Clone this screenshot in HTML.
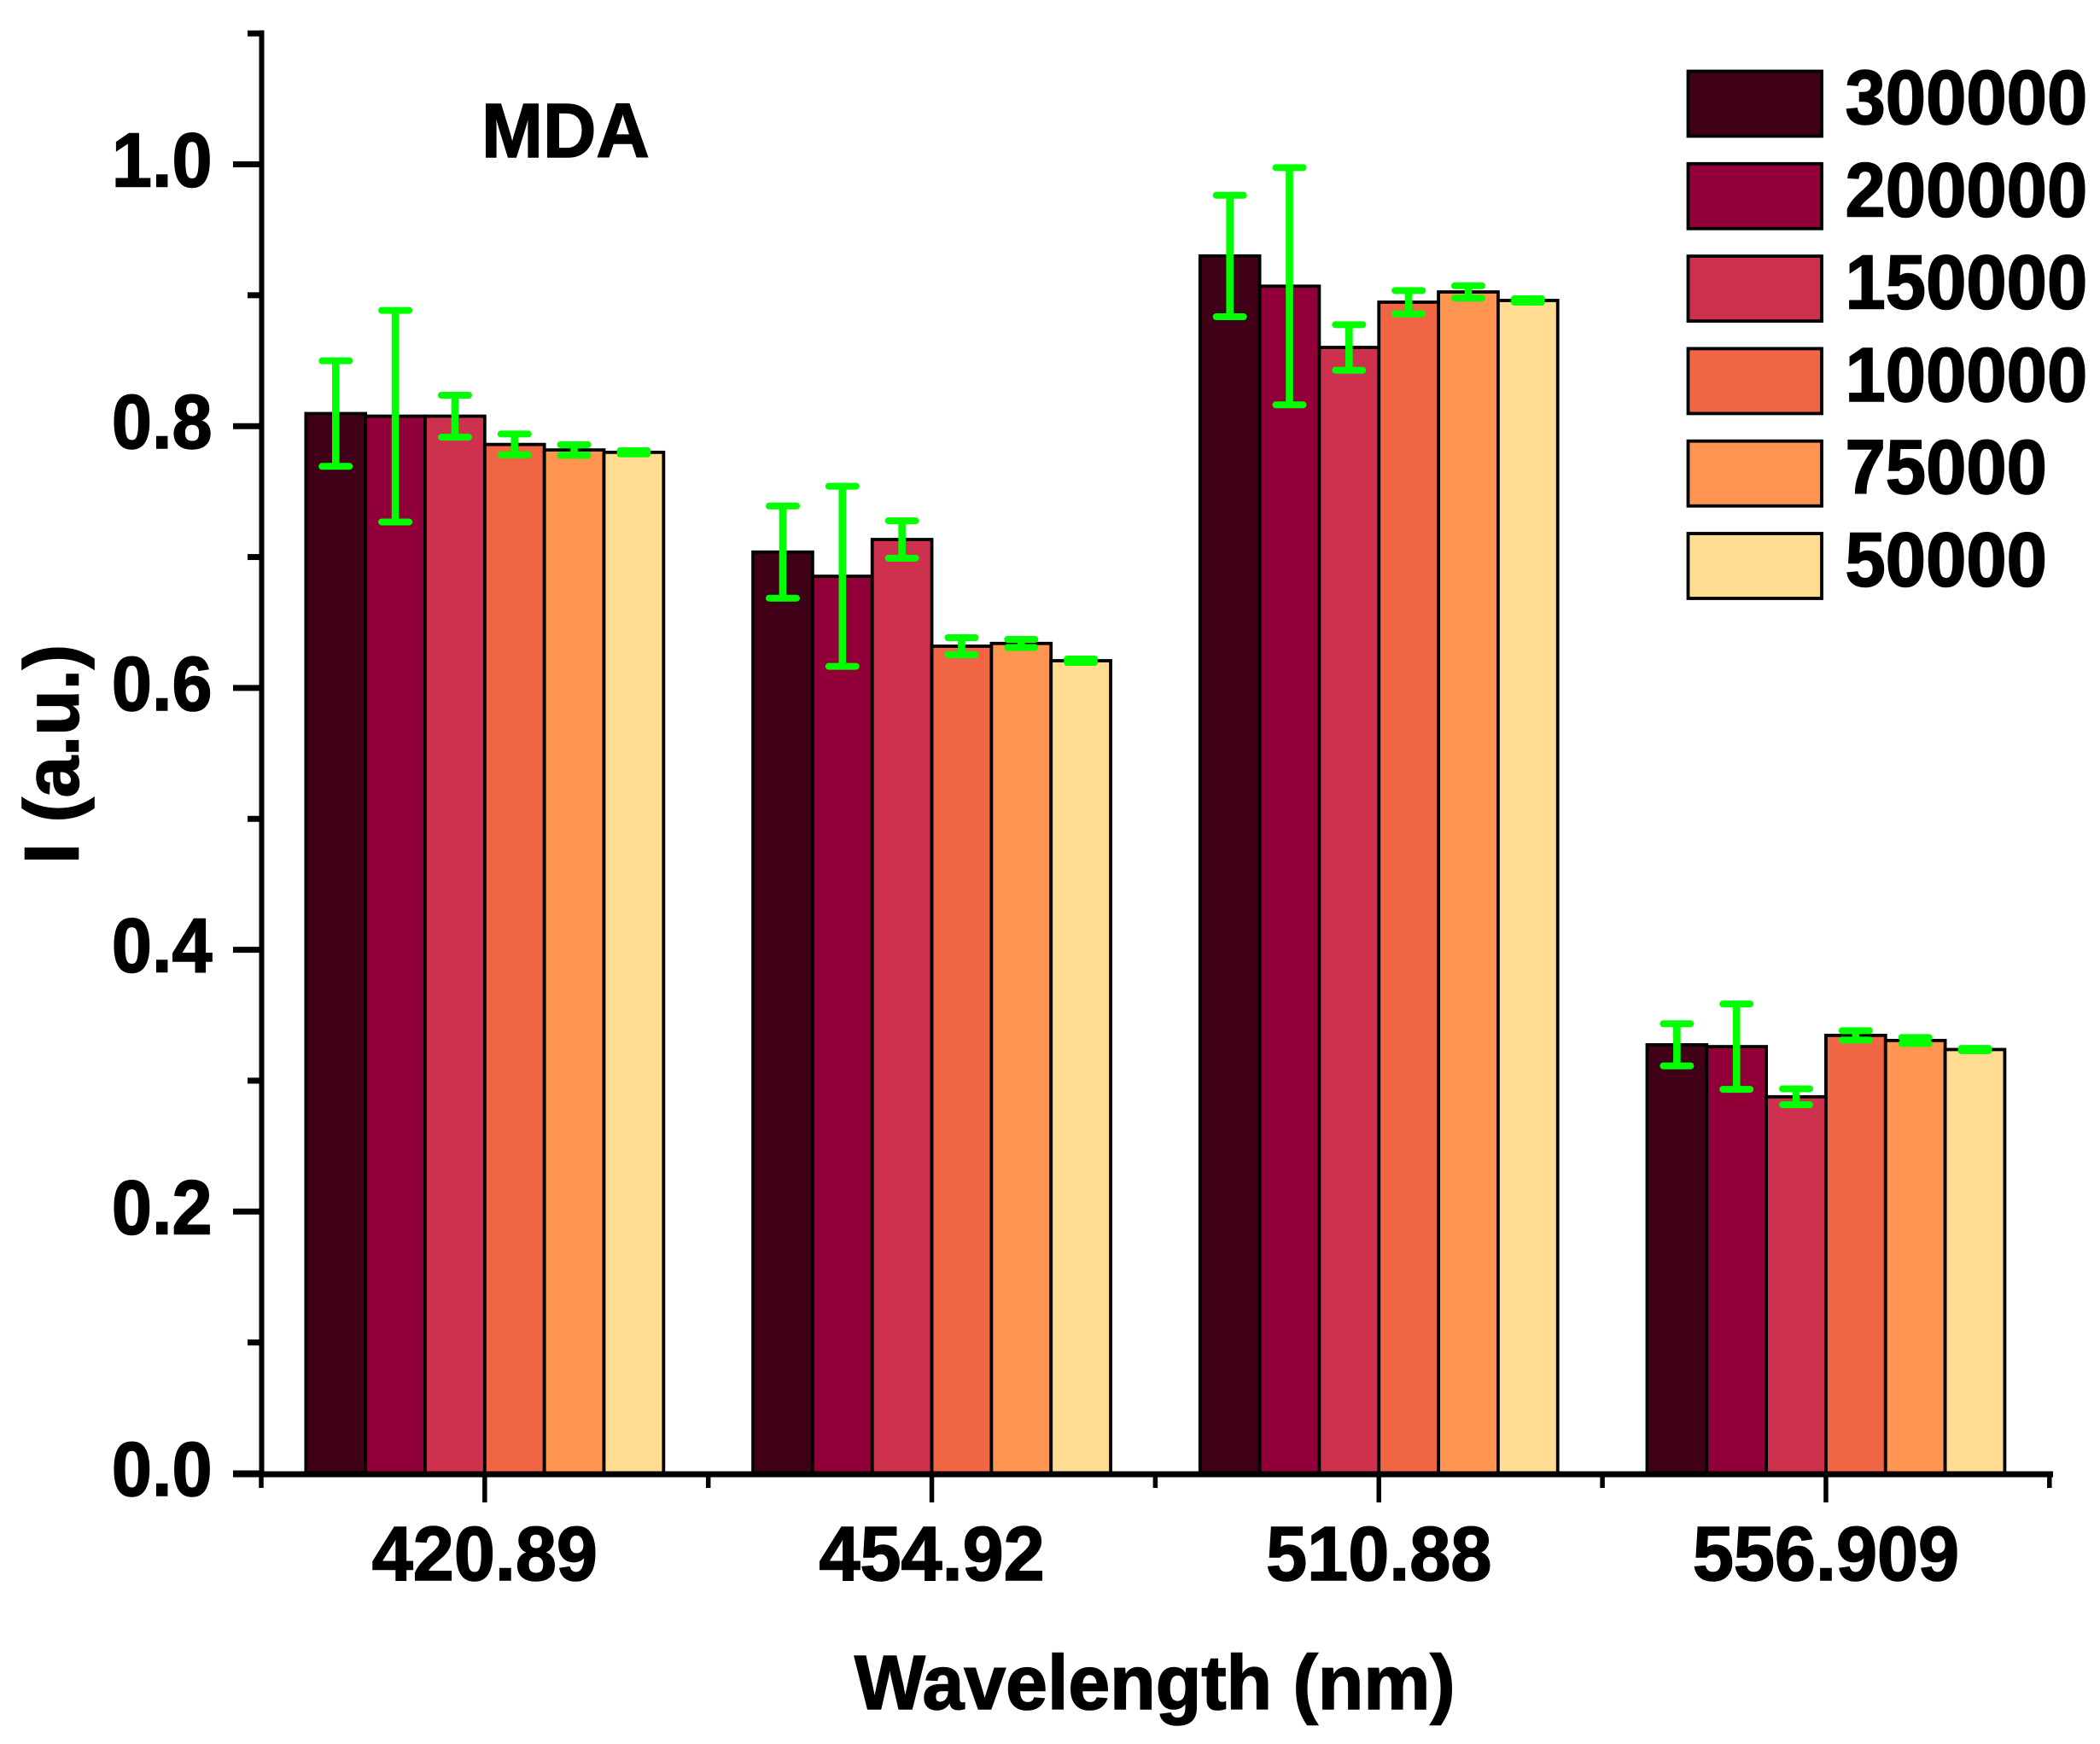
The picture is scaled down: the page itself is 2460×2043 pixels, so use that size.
<!DOCTYPE html>
<html lang="en">
<head>
<meta charset="utf-8">
<title>MDA intensity by wavelength</title>
<style>
  html, body { margin: 0; padding: 0; background: #fff; }
  body { width: 2460px; height: 2043px; overflow: hidden; }
  svg { display: block; }
  text { font-family: "Liberation Sans", Arial, sans-serif; font-weight: 700; fill: #000; stroke: #000; stroke-width: 1.6px; }
</style>
</head>
<body>
<svg id="chart" xmlns="http://www.w3.org/2000/svg" width="2460" height="2043" viewBox="0 0 2460 2043">
  <rect x="0" y="0" width="2460" height="2043" fill="#ffffff"/>
  <g id="bars"></g>
  <g id="errors"></g>
  <g id="axes"></g>
  <g id="legend"></g>
  <text font-size="90" transform="translate(564 184) scale(0.96 1)">MDA</text>
  <text font-size="90" transform="translate(1001 2002) scale(0.975 1)">Wavelength (nm)</text>
  <text font-size="90" transform="translate(91.5 1012) rotate(-90) scale(0.97 1)">I (a.u.)</text>
</svg>
<script>
const categories = ["420.89", "454.92", "510.88", "556.909"];
const seriesNames = ["300000", "200000", "150000", "100000", "75000", "50000"];
const seriesColors = ["#400018", "#910038", "#CE314E", "#F06544", "#FF9551", "#FFDC92"];

const values300000 = [0.8096, 0.7038, 0.9300, 0.3274];
const values200000 = [0.8076, 0.6853, 0.9069, 0.3260];
const values150000 = [0.8076, 0.7134, 0.8601, 0.2877];
const values100000 = [0.7860, 0.6319, 0.8947, 0.3346];
const values75000  = [0.7818, 0.6340, 0.9025, 0.3307];
const values50000  = [0.7800, 0.6208, 0.8960, 0.3238];

const errors300000 = [0.0403, 0.0352, 0.0464, 0.0161];
const errors200000 = [0.0808, 0.0688, 0.0906, 0.0326];
const errors150000 = [0.0160, 0.0143, 0.0174, 0.0061];
const errors100000 = [0.0080, 0.0065, 0.0089, 0.0036];
const errors75000  = [0.0040, 0.0031, 0.0047, 0.0023];
const errors50000  = [0.0012, 0.0013, 0.0013, 0.0009];

const yTickLabels = ["0.0", "0.2", "0.4", "0.6", "0.8", "1.0"];
const yMinorTicks = [0.1, 0.3, 0.5, 0.7, 0.9, 1.1];

const allValues = [values300000, values200000, values150000, values100000, values75000, values50000];
const allErrors = [errors300000, errors200000, errors150000, errors100000, errors75000, errors50000];

const NS = "http://www.w3.org/2000/svg";
const Y0 = 1726, Y_UNIT = 1533.5;
const X0 = 306, GROUP_W = 523.7;
const BAR_W = GROUP_W * 0.8 / seriesNames.length;
const yScale = v => Y0 - v * Y_UNIT;
const groupCenter = i => X0 + GROUP_W * (i + 0.5);
const groupEdge = i => X0 + GROUP_W * i;
const barLeft = (g, s) => groupCenter(g) - BAR_W * seriesNames.length / 2 + s * BAR_W;

function make(tag, attrs, parent) {
  const el = document.createElementNS(NS, tag);
  for (const k in attrs) el.setAttribute(k, attrs[k]);
  parent.appendChild(el);
  return el;
}

const barsG = document.getElementById("bars");
const errG = document.getElementById("errors");
const axesG = document.getElementById("axes");
const legendG = document.getElementById("legend");

categories.forEach((cat, g) => {
  seriesNames.forEach((name, s) => {
    const v = allValues[s][g];
    const bar = make("rect", {
      x: barLeft(g, s), y: yScale(v), width: BAR_W, height: Y0 - yScale(v),
      fill: seriesColors[s], stroke: "#000", "stroke-width": 3.8
    }, barsG);
    
    
  });
});

categories.forEach((cat, g) => {
  seriesNames.forEach((name, s) => {
    const v = allValues[s][g], e = allErrors[s][g];
    const cx = barLeft(g, s) + BAR_W / 2;
    const group = make("g", { stroke: "#00FF00", fill: "none" }, errG);
    
    
    make("line", { x1: cx, x2: cx, y1: yScale(v + e), y2: yScale(v - e), "stroke-width": 8.6 }, group);
    [v + e, v - e].forEach(c => {
      make("line", { x1: cx - 16, x2: cx + 16, y1: yScale(c), y2: yScale(c), "stroke-width": 8, "stroke-linecap": "round" }, group);
    });
  });
});

const yAxisLine = make("line", { x1: 306.5, x2: 306.5, y1: 35.5, y2: 1730, stroke: "#000", "stroke-width": 6 }, axesG);



const xAxisLine = make("line", { x1: 273, x2: 2405, y1: 1727, y2: 1727, stroke: "#000", "stroke-width": 7 }, axesG);



yTickLabels.forEach(lab => {
  const y = yScale(parseFloat(lab));
  const tick = make("line", { x1: 273, x2: 306, y1: y, y2: y, stroke: "#000", "stroke-width": 7 }, axesG);
  
  
  const t = make("text", { "font-size": 90, "text-anchor": "end", transform: "translate(248.5 " + (y + 26) + ") scale(0.94 1)" }, axesG);
  t.textContent = lab;
  
  
});

yMinorTicks.forEach(v => {
  const y = yScale(v);
  const tick = make("line", { x1: 290, x2: 306, y1: y, y2: y, stroke: "#000", "stroke-width": 7 }, axesG);
  
  
});

categories.forEach((cat, g) => {
  const x = groupCenter(g);
  const tick = make("line", { x1: x, x2: x, y1: 1727, y2: 1760, stroke: "#000", "stroke-width": 5.5 }, axesG);
  
  
  const t = make("text", { "font-size": 90, "text-anchor": "middle", transform: "translate(" + x + " 1851) scale(0.96 1)" }, axesG);
  t.textContent = cat;
  
  
});

for (let i = 0; i <= categories.length; i++) {
  const x = groupEdge(i);
  const tick = make("line", { x1: x, x2: x, y1: 1727, y2: 1743, stroke: "#000", "stroke-width": 5.5 }, axesG);
  
  
}

seriesNames.forEach((name, s) => {
  const cy = 121.5 + s * 108.3;
  const swatch = make("rect", { x: 1977.5, y: cy - 38, width: 156.5, height: 76, fill: seriesColors[s], stroke: "#000", "stroke-width": 3.8 }, legendG);
  
  
  const t = make("text", { "font-size": 90, transform: "translate(2161.5 " + (cy + 23.5) + ") scale(0.945 1)" }, legendG);
  t.textContent = name;
  
  
});
</script>
</body>
</html>
